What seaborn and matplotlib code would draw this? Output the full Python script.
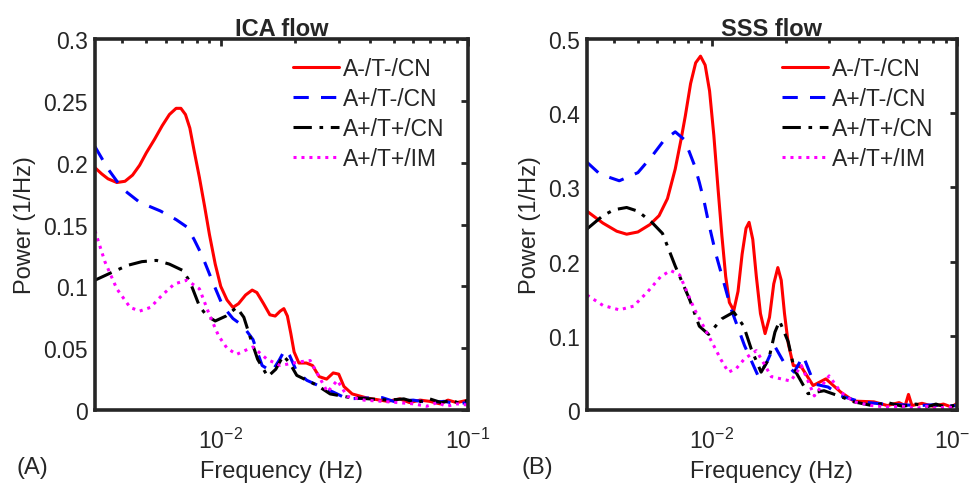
import numpy as np
import pandas as pd
import matplotlib
matplotlib.use('Agg')
import matplotlib.pyplot as plt
import seaborn as sns
from matplotlib.ticker import LogLocator, NullFormatter

# Power spectra (frequency in Hz, power in 1/Hz)
labels = ['A-/T-/CN', 'A+/T-/CN', 'A+/T+/CN', 'A+/T+/IM']

# --- ICA flow ---
ica_red_f = [0.0031, 0.0033, 0.0035, 0.0038, 0.0041, 0.0044, 0.0047, 0.005, 0.0054, 0.0058, 0.0062, 0.0066,
             0.0069, 0.0072, 0.0075, 0.0078, 0.0082, 0.0086, 0.009, 0.0095, 0.01, 0.0106, 0.0112, 0.0118,
             0.0126, 0.0134, 0.014, 0.0149, 0.0158, 0.0166, 0.0174, 0.018, 0.0186, 0.0192, 0.0198, 0.0207,
             0.0222, 0.0235, 0.025, 0.0268, 0.0285, 0.03, 0.0315, 0.034, 0.039, 0.0473, 0.053, 0.058, 0.064,
             0.07, 0.077, 0.083, 0.09, 0.095, 0.1]
ica_red_p = [0.196, 0.191, 0.187, 0.184, 0.185, 0.190, 0.198, 0.208, 0.219, 0.230, 0.239, 0.244,
             0.244, 0.239, 0.228, 0.210, 0.188, 0.165, 0.142, 0.118, 0.100, 0.089, 0.083, 0.086,
             0.093, 0.097, 0.095, 0.086, 0.077, 0.076, 0.080, 0.082, 0.076, 0.062, 0.047, 0.038,
             0.038, 0.036, 0.027, 0.025, 0.030, 0.029, 0.019, 0.013, 0.0097, 0.007, 0.009, 0.006, 0.008,
             0.007, 0.005, 0.008, 0.006, 0.007, 0.008]

ica_blue_f = [0.0031, 0.0035, 0.004, 0.0047, 0.0057, 0.0066, 0.0073, 0.0078, 0.0084, 0.0093, 0.0102, 0.0112,
              0.0123, 0.0135, 0.0147, 0.0161, 0.0172, 0.0182, 0.019, 0.0203, 0.0223, 0.0253, 0.0285, 0.0325,
              0.039, 0.045, 0.05, 0.06, 0.07, 0.08, 0.09, 0.1]
ica_blue_p = [0.213, 0.195, 0.179, 0.168, 0.161, 0.154, 0.148, 0.138, 0.125, 0.103, 0.084, 0.074,
              0.068, 0.057, 0.036, 0.031, 0.040, 0.049, 0.044, 0.031, 0.024, 0.019, 0.0145, 0.009,
              0.0097, 0.010, 0.007, 0.008, 0.006, 0.007, 0.005, 0.006]

ica_black_f = [0.0031, 0.0036, 0.0042, 0.0048, 0.0055, 0.0062, 0.007, 0.0075, 0.0082, 0.0088, 0.0095, 0.0105,
               0.0116, 0.0124, 0.0131, 0.0141, 0.0155, 0.0167, 0.0179, 0.019, 0.0203, 0.0223, 0.0245, 0.0277,
               0.0335, 0.04, 0.048, 0.055, 0.062, 0.07, 0.078, 0.086, 0.093, 0.1]
ica_black_p = [0.105, 0.111, 0.117, 0.120, 0.121, 0.118, 0.113, 0.104, 0.084, 0.076, 0.072, 0.076,
               0.083, 0.075, 0.060, 0.041, 0.027, 0.033, 0.044, 0.038, 0.028, 0.024, 0.020, 0.013,
               0.010, 0.009, 0.008, 0.009, 0.006, 0.009, 0.006, 0.008, 0.005, 0.008]

ica_mag_f = [0.0031, 0.0034, 0.0038, 0.0043, 0.0047, 0.0052, 0.0058, 0.0065, 0.0073, 0.0082, 0.009, 0.0098,
             0.0106, 0.0116, 0.0125, 0.0135, 0.0154, 0.0174, 0.0209, 0.023, 0.0253, 0.027, 0.0296, 0.0325,
             0.038, 0.045, 0.052, 0.06, 0.068, 0.075, 0.082, 0.09, 0.1]
ica_mag_p = [0.145, 0.120, 0.098, 0.083, 0.080, 0.083, 0.093, 0.102, 0.105, 0.098, 0.077, 0.060,
             0.050, 0.045, 0.048, 0.051, 0.041, 0.036, 0.039, 0.040, 0.025, 0.0145, 0.024, 0.011,
             0.008, 0.007, 0.006, 0.005, 0.003, 0.006, 0.003, 0.005, 0.004]

# --- SSS flow ---
sss_red_f = [0.0031, 0.0036, 0.0041, 0.0045, 0.005, 0.0056, 0.0061, 0.0066, 0.0071, 0.0075, 0.0078, 0.0082, 0.0086,
             0.009, 0.0094, 0.0098, 0.0102, 0.0106, 0.011, 0.0114, 0.0118, 0.0123, 0.0128, 0.0133, 0.0138, 0.0142,
             0.0147, 0.0152, 0.0158, 0.0165, 0.0172, 0.0179, 0.0186, 0.0192, 0.0198, 0.0205, 0.0215, 0.0232,
             0.0259, 0.0292, 0.0336, 0.038, 0.0458, 0.052, 0.058, 0.0615, 0.0634, 0.0655, 0.072, 0.08, 0.088,
             0.095, 0.1]
sss_red_p = [0.268, 0.252, 0.241, 0.237, 0.240, 0.250, 0.262, 0.285, 0.325, 0.365, 0.396, 0.440, 0.468,
             0.477, 0.465, 0.430, 0.370, 0.300, 0.235, 0.180, 0.145, 0.134, 0.160, 0.210, 0.245, 0.253,
             0.230, 0.180, 0.130, 0.103, 0.125, 0.170, 0.192, 0.175, 0.130, 0.090, 0.060, 0.058,
             0.033, 0.042, 0.024, 0.012, 0.011, 0.006, 0.010, 0.006, 0.021, 0.006, 0.009, 0.005, 0.008,
             0.004, 0.009]

sss_blue_f = [0.0031, 0.0035, 0.0042, 0.005, 0.0057, 0.0064, 0.0071, 0.0077, 0.0081, 0.0085, 0.0089, 0.0093, 0.0097,
              0.0104, 0.0112, 0.012, 0.0136, 0.0155, 0.0168, 0.018, 0.0197, 0.0217, 0.0236, 0.0262, 0.0298, 0.0336,
              0.0405, 0.05, 0.06, 0.07, 0.08, 0.09, 0.1]
sss_blue_p = [0.334, 0.318, 0.309, 0.320, 0.342, 0.364, 0.375, 0.365, 0.348, 0.330, 0.307, 0.282, 0.253,
              0.210, 0.172, 0.136, 0.087, 0.045, 0.065, 0.087, 0.064, 0.051, 0.073, 0.035, 0.031, 0.019,
              0.011, 0.008, 0.007, 0.006, 0.007, 0.005, 0.006]

sss_black_f = [0.0031, 0.0036, 0.004, 0.0045, 0.005, 0.0057, 0.0063, 0.0071, 0.0081, 0.0089, 0.0097, 0.011,
               0.0123, 0.0135, 0.0145, 0.0159, 0.0171, 0.0181, 0.0189, 0.0205, 0.0217, 0.0247, 0.0287, 0.0336,
               0.038, 0.045, 0.052, 0.06, 0.068, 0.075, 0.082, 0.09, 0.1]
sss_black_p = [0.244, 0.262, 0.270, 0.273, 0.268, 0.253, 0.238, 0.194, 0.150, 0.113, 0.102, 0.123,
               0.132, 0.113, 0.082, 0.051, 0.069, 0.105, 0.120, 0.092, 0.055, 0.022, 0.026, 0.018,
               0.011, 0.006, 0.010, 0.005, 0.008, 0.004, 0.008, 0.004, 0.007]

sss_mag_f = [0.0031, 0.0036, 0.0042, 0.0048, 0.0055, 0.0062, 0.0068, 0.0074, 0.0085, 0.01, 0.0109, 0.0117,
             0.0126, 0.0136, 0.0152, 0.0163, 0.0175, 0.021, 0.0232, 0.0262, 0.0301, 0.0336, 0.038, 0.045,
             0.052, 0.06, 0.068, 0.075, 0.082, 0.09, 0.1]
sss_mag_p = [0.155, 0.141, 0.135, 0.140, 0.160, 0.180, 0.188, 0.182, 0.136, 0.092, 0.068, 0.051,
             0.056, 0.069, 0.080, 0.063, 0.045, 0.039, 0.060, 0.019, 0.046, 0.024, 0.011, 0.006,
             0.004, 0.005, 0.002, 0.005, 0.002, 0.004, 0.003]

ica_series = [(ica_red_f, ica_red_p), (ica_blue_f, ica_blue_p), (ica_black_f, ica_black_p), (ica_mag_f, ica_mag_p)]
sss_series = [(sss_red_f, sss_red_p), (sss_blue_f, sss_blue_p), (sss_black_f, sss_black_p), (sss_mag_f, sss_mag_p)]

colors = ['#ff0000', '#0000ff', '#000000', '#ff00ff']
styles = ['-', (0, (5, 4)), (0, (6, 2.5, 1.2, 2.5)), (0, (1, 1.6))]

sns.set_theme(style='white')
plt.rcParams['font.family'] = ['Liberation Sans', 'DejaVu Sans']
plt.rcParams['mathtext.default'] = 'regular'
plt.rcParams['axes.edgecolor'] = '#262626'

fig = plt.figure(figsize=(9.71, 4.89), dpi=100)
ax1 = fig.add_axes([0.0978, 0.1595, 0.3842, 0.7585])
ax2 = fig.add_axes([0.6045, 0.1595, 0.3811, 0.7585])


def draw_panel(ax, series, title, ymax, yticks, yticklabels):
    for (f, p), lab, c, ls in zip(series, labels, colors, styles):
        df = pd.DataFrame({'f': f, 'p': p})
        sns.lineplot(data=df, x='f', y='p', ax=ax, color=c, linestyle=ls, linewidth=2.2,
                     label=lab, sort=False)
    ax.set_xscale('log')
    ax.set_xlim(0.0031, 0.1)
    ax.set_ylim(0, ymax)
    ax.set_yticks(yticks)
    ax.set_yticklabels(yticklabels)
    ax.xaxis.set_major_locator(LogLocator(base=10, numticks=10))
    ax.xaxis.set_minor_locator(LogLocator(base=10, subs=np.arange(2, 10), numticks=20))
    ax.xaxis.set_minor_formatter(NullFormatter())
    ax.tick_params(axis='both', which='both', direction='in', top=True, right=True,
                   labelsize=16.5, width=2, colors='#262626', labelcolor='#262626')
    ax.tick_params(axis='both', which='major', length=5, pad=5)
    ax.tick_params(axis='x', which='minor', length=3)
    ax.tick_params(axis='x', which='major', pad=13)
    for s in ax.spines.values():
        s.set_linewidth(2.6)
        s.set_color('#262626')
    ax.set_title(title, fontsize=17, fontweight='bold', pad=3)
    ax.set_xlabel('Frequency (Hz)', fontsize=17, labelpad=5)
    ax.set_ylabel('Power (1/Hz)', fontsize=17, labelpad=5)
    ax.legend(loc='upper right', frameon=False, fontsize=16.5, handlelength=2.0,
              labelspacing=0.3, handletextpad=0.15, borderaxespad=0.4, bbox_to_anchor=(0.985, 1.0))


draw_panel(ax1, ica_series, 'ICA flow', 0.3,
           [0, 0.05, 0.1, 0.15, 0.2, 0.25, 0.3], ['0', '0.05', '0.1', '0.15', '0.2', '0.25', '0.3'])
draw_panel(ax2, sss_series, 'SSS flow', 0.5,
           [0, 0.1, 0.2, 0.3, 0.4, 0.5], ['0', '0.1', '0.2', '0.3', '0.4', '0.5'])

fig.text(32 / 971, 1 - 468 / 489, '(A)', fontsize=17, ha='center', va='center')
fig.text(537 / 971, 1 - 468 / 489, '(B)', fontsize=17, ha='center', va='center')

fig.savefig('out.png', dpi=100)
